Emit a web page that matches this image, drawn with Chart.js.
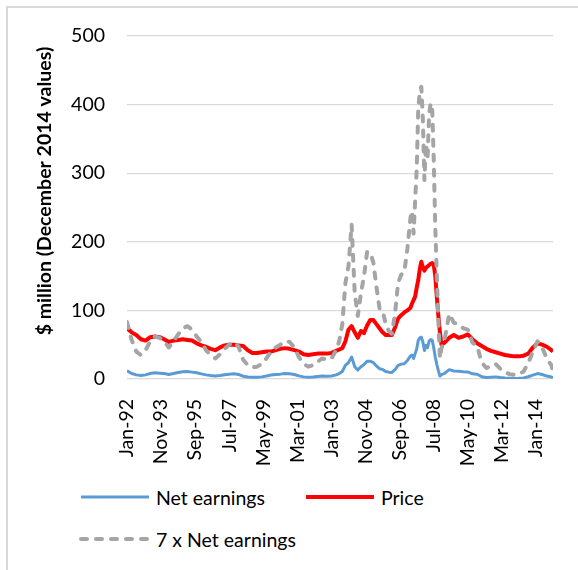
<!DOCTYPE html>
<html lang="en">
<head>
  <meta charset="UTF-8">
  <title>Net earnings and price</title>
  <script src="https://cdn.jsdelivr.net/npm/chart.js"></script>
  <style>
    html, body {
      margin: 0;
      padding: 0;
      overflow: hidden;
      background: #fff;
      font-family: 'Lato', sans-serif;
    }
    #frame {
      position: absolute;
      left: 6px;
      top: 6px;
      width: 640px;
      height: 640px;
      border: 2px solid #d9d9d9;
    }
    #chartBox {
      position: absolute;
      left: 0;
      top: 0;
    }
    .legend-item {
      position: absolute;
      display: flex;
      align-items: center;
      font-size: 19.5px;
      color: #000;
      white-space: nowrap;
    }
    .legend-item svg {
      margin-right: 5px;
    }
  </style>
</head>
<body>
  <div id="frame"></div>
  <div id="chartBox">
    <canvas id="earningsChart" width="578" height="470"></canvas>
  </div>
  <div id="legend"></div>
  <script>
    // months counted from Jan-92
    const months = [
      0, 3, 6, 9, 12, 15, 18, 21, 24, 27, 30, 33, 36, 39, 42, 45, 48, 51, 54, 57, 60, 63, 66,
      69, 72, 75, 78, 81, 84, 87, 90, 93, 96, 99, 102, 105, 108, 111, 114, 117, 120, 123, 126,
      129, 132, 135,
      137, 139, 141, 143, 145, 147, 149, 151, 153, 155, 157, 159, 161, 163, 165, 167, 169, 171,
      173, 175, 177, 179, 181, 183,
      184, 185, 186, 187, 188, 189, 190, 191, 192, 193, 194, 195, 196, 197, 198, 199, 200, 201,
      202, 203,
      205, 208, 211, 214, 217, 220, 223, 226, 229, 232, 235, 238, 241, 244, 247, 250, 253, 256,
      259, 262, 265, 268, 271, 274, 275
    ];

    const netEarnings = [
      12, 8, 6, 5, 6, 8, 9, 8.5, 8, 6.5, 8, 9.5, 10.5, 11, 10, 9, 7.5, 6, 5, 4.3, 5, 6.3, 7,
      7.7, 6.7, 4, 2.9, 2.4, 2.6, 3.1, 4.3, 5.7, 6.6, 7.1, 7.9, 7.7, 6.6, 4.6, 3.1, 2.6, 2.9, 3.6, 4.3,
      4, 4.3, 6,
      8, 11, 20, 24, 32, 18, 13, 18, 21, 26, 26, 24, 19, 15, 14, 11, 10, 9.5,
      13.5, 20, 21.7, 22.3, 27, 33.6,
      35, 30, 37, 43.6, 56, 60, 60.9, 54, 41.4, 49, 45.7, 55, 57.4, 56.6, 45.7, 31.7, 21.4, 12.3,
      4.3, 6.4,
      8.1, 13.6, 11.7, 11.4, 10.6, 10.3, 7.6, 6.9, 3.4, 2.3, 2.7, 3.1, 2.1, 1.4, 1, 0.9, 1, 1.6,
      3.3, 5.7, 7.9, 6.6, 4.3, 2.9, 1.6
    ];

    const price = [
      74, 68, 64, 58, 56, 61, 62, 61, 58, 54, 56, 57, 58, 57, 56, 52, 49, 47, 44, 42, 46, 49, 50,
      50, 49, 48, 42, 38, 38, 39, 40, 40, 42, 44, 45, 44, 42, 40, 36, 35, 36, 37, 37,
      37, 38, 41,
      43, 45, 55, 72, 77, 68, 60, 70, 67, 78, 86, 86, 80, 74, 68, 64, 64, 64,
      75, 88, 93, 97, 100, 104,
      110, 115, 120, 133, 144, 160, 171, 163, 158, 162, 164, 166, 168, 169, 167, 150, 120, 92,
      68, 50,
      53, 60, 64, 60, 62, 65, 58, 52, 48, 44, 41, 39, 37, 35, 34, 33, 33, 34,
      37, 46, 52, 50, 47, 42, 40
    ];

    const netEarnings7x = [
      83, 57, 40, 35, 42, 55, 62, 60, 55, 46, 55, 65, 74, 77, 72, 62, 54, 42, 35, 30, 36, 44, 50,
      54, 47, 28, 20, 17, 18, 22, 30, 40, 46, 50, 55, 54, 46, 32, 22, 18, 20, 25, 30,
      28, 30, 42,
      55, 80, 140, 165, 225, 125, 92, 125, 150, 185, 185, 170, 135, 103, 100, 80, 70, 66,
      95, 140, 152, 156, 190, 235,
      245, 212, 260, 305, 392, 420, 426, 378, 290, 343, 320, 385, 402, 396, 320, 222, 150, 86,
      30, 45,
      57, 95, 82, 80, 74, 72, 53, 48, 24, 16, 19, 22, 15, 10, 7, 6, 7, 11,
      23, 40, 55, 46, 30, 20, 11
    ];

    const tickMonths = [0, 22, 44, 66, 88, 110, 132, 154, 176, 198, 220, 242, 264];
    const tickLabels = ['Jan-92', 'Nov-93', 'Sep-95', 'Jul-97', 'May-99', 'Mar-01', 'Jan-03',
      'Nov-04', 'Sep-06', 'Jul-08', 'May-10', 'Mar-12', 'Jan-14'];
    const seriesNames = ['Net earnings', 'Price', '7 x Net earnings'];
    const yAxisTitle = '$ million (December 2014 values)';

    const toPoints = vals => months.map((m, i) => ({ x: m, y: vals[i] }));
    const font = { family: 'Lato', size: 19.5 };

    const yTitlePlugin = {
      id: 'yTitle',
      afterDraw(chart) {
        const ctx = chart.ctx;
        ctx.save();
        ctx.translate(45, 191);
        ctx.rotate(-Math.PI / 2);
        ctx.font = 'bold 19.5px Lato';
        ctx.fillStyle = '#000';
        ctx.textAlign = 'center';
        ctx.textBaseline = 'middle';
        ctx.fillText(yAxisTitle, 0, 0);
        ctx.restore();
      }
    };

    const chart = new Chart(document.getElementById('earningsChart'), {
      type: 'line',
      data: {
        datasets: [
          {
            label: seriesNames[0],
            data: toPoints(netEarnings),
            borderColor: '#5b9bd5',
            borderWidth: 3,
            order: 3
          },
          {
            label: seriesNames[1],
            data: toPoints(price),
            borderColor: '#ff0000',
            borderWidth: 4,
            order: 2
          },
          {
            label: seriesNames[2],
            data: toPoints(netEarnings7x),
            borderColor: '#a5a5a5',
            borderWidth: 4,
            borderDash: [6, 9],
            borderCapStyle: 'round',
            order: 1
          }
        ]
      },
      options: {
        responsive: false,
        animation: false,
        devicePixelRatio: 1,
        layout: { padding: { top: 36, right: 25, left: 0, bottom: 0 } },
        elements: {
          point: { radius: 0 },
          line: { tension: 0, borderJoinStyle: 'round', fill: false }
        },
        plugins: {
          legend: { display: false },
          tooltip: { enabled: false }
        },
        scales: {
          x: {
            type: 'linear',
            min: 0,
            max: 275,
            grid: { display: false },
            border: { display: false },
            afterBuildTicks: axis => {
              axis.ticks = tickMonths.map(v => ({ value: v }));
            },
            afterFit: axis => { axis.height = 91; },
            ticks: {
              autoSkip: false,
              minRotation: 90,
              maxRotation: 90,
              padding: 12,
              color: '#000',
              font: font,
              callback: v => tickLabels[tickMonths.indexOf(v)]
            }
          },
          y: {
            min: 0,
            max: 500,
            afterFit: axis => { axis.width = 127; },
            grid: { color: '#d9d9d9', lineWidth: 1.3, drawTicks: false },
            border: { display: false },
            ticks: {
              stepSize: 100,
              padding: 22,
              color: '#000',
              font: font
            }
          }
        }
      },
      plugins: [yTitlePlugin]
    });

    // legend below the chart
    const legendSpots = [
      { left: 79, top: 497 },
      { left: 304, top: 497 },
      { left: 79, top: 539 }
    ];
    const legend = document.getElementById('legend');
    chart.data.datasets.forEach((ds, i) => {
      const item = document.createElement('div');
      item.className = 'legend-item';
      item.style.left = legendSpots[i].left + 'px';
      item.style.top = (legendSpots[i].top - 12) + 'px';
      item.style.height = '24px';
      const dash = ds.borderDash ? 'stroke-dasharray="6 9" ' : '';
      const cap = ds.borderDash ? 'round' : 'butt';
      item.innerHTML =
        '<svg width="72" height="8"><line x1="2" y1="4" x2="70" y2="4" stroke="' + ds.borderColor +
        '" stroke-width="' + ds.borderWidth + '" ' + dash + 'stroke-linecap="' + cap + '"/></svg>' +
        '<span>' + ds.label + '</span>';
      legend.appendChild(item);
    });
  </script>
</body>
</html>
